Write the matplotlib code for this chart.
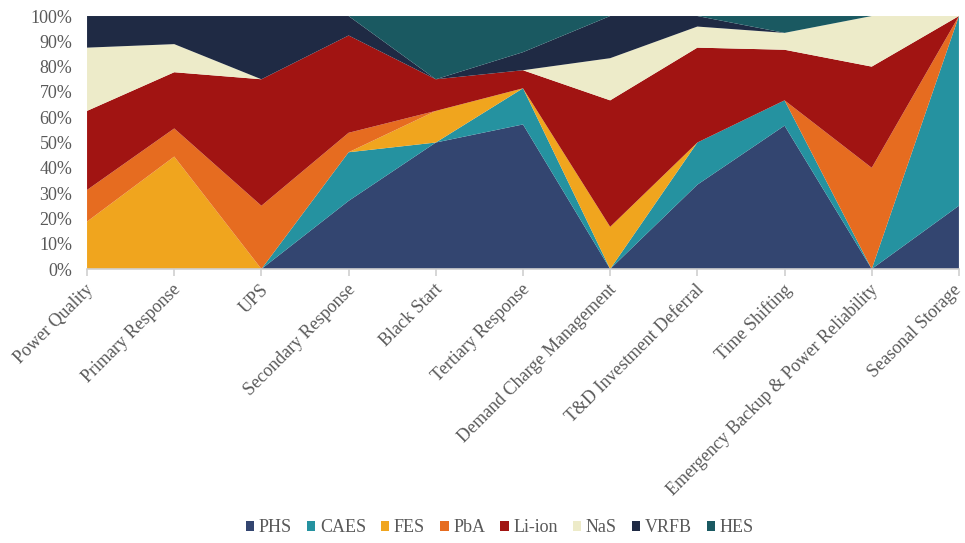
import numpy as np
import matplotlib.pyplot as plt
import matplotlib.transforms as mtransforms
from matplotlib.patches import Patch
from matplotlib.ticker import PercentFormatter

plt.rcParams['font.family'] = ['Liberation Serif', 'DejaVu Serif']

# Applications (x axis)
applications = [
    "Power Quality", "Primary Response", "UPS", "Secondary Response",
    "Black Start", "Tertiary Response", "Demand Charge Management",
    "T&D Investment Deferral", "Time Shifting",
    "Emergency Backup & Power Reliability", "Seasonal Storage",
]

# Number of mentions per technology and application
phs = [0, 0, 0, 7, 4, 8, 0, 8, 17, 0, 1]
caes = [0, 0, 0, 5, 0, 2, 0, 4, 3, 0, 3]
fes = [3, 4, 0, 0, 1, 0, 1, 0, 0, 0, 0]
pba = [2, 1, 1, 2, 0, 0, 0, 0, 0, 2, 0]
li_ion = [5, 2, 2, 10, 1, 1, 3, 9, 6, 2, 0]
nas = [4, 1, 0, 0, 0, 0, 1, 2, 2, 1, 0]
vrfb = [2, 1, 1, 2, 0, 1, 1, 1, 0, 0, 0]
hes = [0, 0, 0, 0, 2, 2, 0, 0, 2, 0, 0]

technologies = ["PHS", "CAES", "FES", "PbA", "Li-ion", "NaS", "VRFB", "HES"]
colors = ["#334570", "#2592A0", "#F0A51E", "#E66C20",
          "#A11412", "#EDEBC9", "#1F2A44", "#1A5961"]

series = np.array([phs, caes, fes, pba, li_ion, nas, vrfb, hes], dtype=float)
shares = series / series.sum(axis=0) * 100

fig = plt.figure(figsize=(9.65, 5.43), dpi=100)
ax = fig.add_axes([0.0902, 0.5046, 0.9035, 0.4659])

x = np.arange(len(applications))
ax.stackplot(x, shares, colors=colors, linewidth=0)

ax.set_xlim(0, len(applications) - 1)
ax.set_ylim(0, 100)
ax.set_yticks(np.arange(0, 101, 10))
ax.yaxis.set_major_formatter(PercentFormatter(decimals=0))
ax.set_xticks(x)
ax.set_xticklabels([])

# rotated category labels, anchored at their upper-right corner just
# below each tick (the last one a bit further left so it stays inside
# the figure)
base = ax.get_xaxis_transform()
for i, name in enumerate(applications):
    dx = -6 if i == len(applications) - 1 else -2
    off = mtransforms.ScaledTranslation(dx / 100, -12 / 100, fig.dpi_scale_trans)
    ax.text(i, 0, name, transform=base + off, rotation=45,
            ha='right', va='top', rotation_mode='anchor',
            fontsize=13, color='#595959')

for side in ['top', 'right', 'left']:
    ax.spines[side].set_visible(False)
ax.spines['bottom'].set_color('#D0D0D0')
ax.spines['bottom'].set_linewidth(1.2)
ax.tick_params(axis='x', colors='#D0D0D0', length=5, width=1.2)
ax.tick_params(axis='y', length=0, labelcolor='#595959', labelsize=13, pad=10.5)

handles = [Patch(facecolor=c, edgecolor='none') for c in colors]
fig.legend(handles, technologies, loc='center', bbox_to_anchor=(0.518, 0.028),
           ncol=8, frameon=False, fontsize=13, labelcolor='#595959',
           handlelength=0.45, handleheight=0.45, handletextpad=0.25,
           columnspacing=0.85)

fig.savefig("out.png", dpi=100)
